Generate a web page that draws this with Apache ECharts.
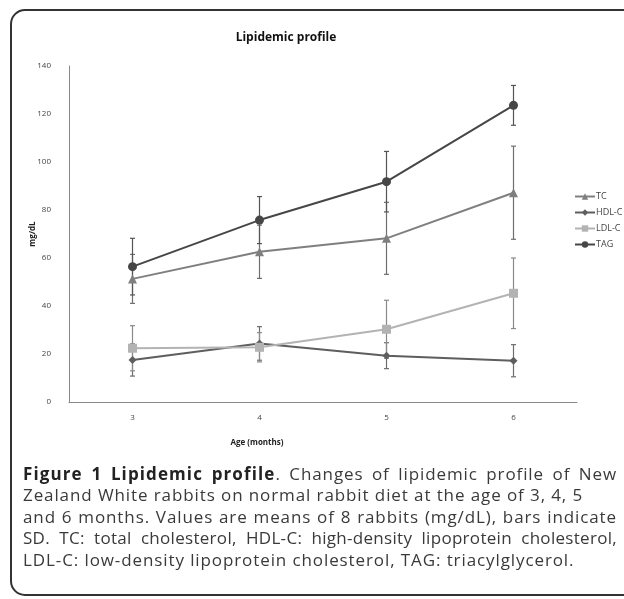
<!DOCTYPE html>
<html>
<head>
<meta charset="utf-8">
<script src="https://cdn.jsdelivr.net/npm/echarts@6/dist/echarts.min.js"></script>
<style>
  html, body { margin: 0; padding: 0; background: #fff; }
  #wrap { position: relative; width: 624px; height: 599px; overflow: hidden; }
  #chart { position: absolute; left: 0; top: 0; width: 624px; height: 599px; }
  #caption { position: absolute; left: 23px; top: 463px; width: 594px;
    font-family: "Open Sans", sans-serif; font-size: 17px; letter-spacing: 0.9px;
    color: #3a3a3a; line-height: 21.4px; }
  #caption div { white-space: nowrap; }
  #caption .j { text-align: justify; text-align-last: justify; }
  #caption .t { letter-spacing: 0.3px; }
  #caption b { letter-spacing: 1.1px; color: #222; }
</style>
</head>
<body>
<div id="wrap">
  <div id="chart"></div>
  <div id="caption">
    <div class="j"><b>Figure 1 Lipidemic profile</b>. Changes of lipidemic profile of New</div>
    <div>Zealand White rabbits on normal rabbit diet at the age of 3, 4, 5</div>
    <div class="j">and 6 months. Values are means of 8 rabbits (mg/dL), bars indicate</div>
    <div class="j t">SD. TC: total cholesterol, HDL-C: high-density lipoprotein cholesterol,</div>
    <div>LDL-C: low-density lipoprotein cholesterol, TAG: triacylglycerol.</div>
  </div>
</div>
<script>
const categories = ['3', '4', '5', '6'];
const tc = [51.3, 62.6, 68.2, 87.2];
const tcSd = [10.2, 11.1, 15.0, 19.4];
const hdl = [17.5, 24.4, 19.3, 17.2];
const hdlSd = [6.7, 7.0, 5.4, 6.7];
const ldl = [22.4, 22.8, 30.3, 45.3];
const ldlSd = [9.4, 6.1, 12.1, 14.7];
const tag = [56.4, 75.8, 91.8, 123.6];
const tagSd = [11.8, 9.8, 12.6, 8.3];

const chart = echarts.init(document.getElementById('chart'));
const font = '"Open Sans", sans-serif';

function errData(vals, sds) {
  return vals.map((v, i) => [i, v - sds[i], v + sds[i]]);
}
function errSeries(name, vals, sds, color) {
  return {
    type: 'custom',
    name: name + ' SD',
    data: errData(vals, sds),
    z: 1,
    silent: true,
    renderItem: function (params, api) {
      const lo = api.coord([api.value(0), api.value(1)]);
      const hi = api.coord([api.value(0), api.value(2)]);
      const w = 2.5;
      const st = { stroke: color, lineWidth: 1.2 };
      return {
        type: 'group',
        children: [
          { type: 'line', shape: { x1: lo[0], y1: lo[1], x2: hi[0], y2: hi[1] }, style: st },
          { type: 'line', shape: { x1: lo[0] - w, y1: lo[1], x2: lo[0] + w, y2: lo[1] }, style: st },
          { type: 'line', shape: { x1: hi[0] - w, y1: hi[1], x2: hi[0] + w, y2: hi[1] }, style: st }
        ]
      };
    }
  };
}
function lineSeries(name, vals, color, symbol, size) {
  return {
    type: 'line',
    name: name,
    data: vals,
    z: 3,
    symbol: symbol,
    symbolSize: size,
    showAllSymbol: true,
    lineStyle: { color: color, width: 2 },
    itemStyle: { color: color },
    emphasis: { disabled: true }
  };
}

const option = {
  animation: false,
  backgroundColor: '#fff',
  grid: { left: 69, right: 47, top: 66, bottom: 197 },
  legend: {
    orient: 'vertical',
    left: 569,
    top: 187,
    itemWidth: 20,
    itemHeight: 8,
    itemGap: 7,
    data: ['TC', 'HDL-C', 'LDL-C', 'TAG'],
    textStyle: { fontFamily: font, fontSize: 9, color: '#444', padding: [0, 0, 0, -4] },
    selectedMode: false
  },
  xAxis: {
    type: 'category',
    data: categories,
    boundaryGap: true,
    axisLine: { lineStyle: { color: '#888', width: 1 } },
    axisTick: { show: false },
    axisLabel: { fontFamily: font, fontSize: 8, color: '#444', margin: 12 }
  },
  yAxis: {
    type: 'value',
    min: 0,
    max: 140,
    interval: 20,
    axisLine: { show: true, lineStyle: { color: '#888', width: 1 } },
    axisTick: { show: false },
    splitLine: { show: false },
    axisLabel: { fontFamily: font, fontSize: 8, color: '#444', margin: 18 }
  },
  graphic: [
    { type: 'rect', shape: { x: 11, y: 10, width: 660, height: 585, r: 14 },
      style: { fill: 'none', stroke: '#333', lineWidth: 2 }, z: -10 },
    { type: 'text', x: 286, y: 38, style: { text: 'Lipidemic profile', font: 'bold 12px ' + font,
      fill: '#111', align: 'center', verticalAlign: 'middle' } },
    { type: 'text', x: 33, y: 234, rotation: Math.PI / 2, style: { text: 'mg/dL', font: 'bold 8px ' + font,
      fill: '#222', align: 'center', verticalAlign: 'middle' } },
    { type: 'text', x: 257, y: 443, style: { text: 'Age (months)', font: 'bold 8px ' + font,
      fill: '#222', align: 'center', verticalAlign: 'middle' } }
  ],
  series: [
    errSeries('TC', tc, tcSd, '#6e6e6e'),
    errSeries('HDL-C', hdl, hdlSd, '#6e6e6e'),
    errSeries('LDL-C', ldl, ldlSd, '#8a8a8a'),
    errSeries('TAG', tag, tagSd, '#555'),
    lineSeries('TC', tc, '#7f7f7f', 'triangle', 9),
    lineSeries('HDL-C', hdl, '#5e5e5e', 'diamond', 8),
    lineSeries('LDL-C', ldl, '#b3b3b3', 'rect', 9),
    lineSeries('TAG', tag, '#464646', 'circle', 9)
  ]
};
chart.setOption(option);
</script>
</body>
</html>
